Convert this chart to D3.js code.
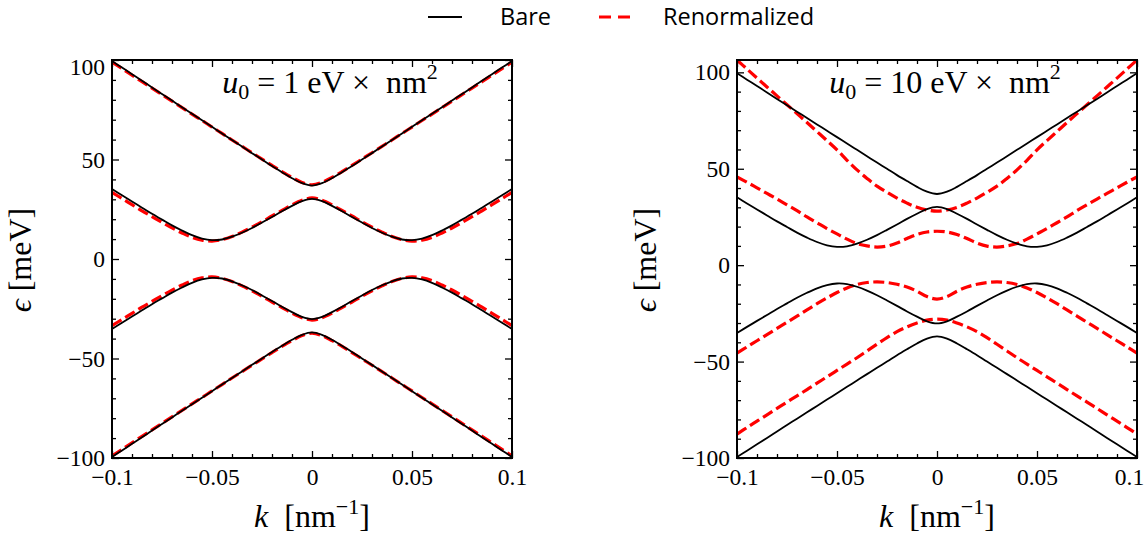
<!DOCTYPE html>
<html>
<head>
<meta charset="utf-8">
<script src="https://cdn.jsdelivr.net/npm/d3@7"></script>
<style>
  html, body { margin: 0; padding: 0; background: #fff; }
  svg { display: block; }
  text { white-space: pre; }
</style>
</head>
<body>
<svg id="chart" width="1145" height="538"></svg>
<script>
// ---- data ----
const kValues = [-0.1, -0.095, -0.09, -0.085, -0.08, -0.075, -0.07, -0.065, -0.06, -0.055, -0.05, -0.045, -0.04, -0.035, -0.03, -0.025, -0.02, -0.015, -0.01, -0.005, 0, 0.005, 0.01, 0.015, 0.02, 0.025, 0.03, 0.035, 0.04, 0.045, 0.05, 0.055, 0.06, 0.065, 0.07, 0.075, 0.08, 0.085, 0.09, 0.095, 0.1];

// Bare bands (same in both panels)
const bare1 = [99.5, 96.2, 92.9, 89.6, 86.2, 82.9, 79.6, 76.3, 73.0, 69.7, 66.4, 63.1, 59.8, 56.5, 53.2, 50.0, 46.7, 43.6, 40.6, 38.1, 36.9, 38.1, 40.6, 43.6, 46.7, 50.0, 53.2, 56.5, 59.8, 63.1, 66.4, 69.7, 73.0, 76.3, 79.6, 82.9, 86.2, 89.6, 92.9, 96.2, 99.5];
const bare2 = [35.2, 32.0, 28.9, 25.8, 22.7, 19.8, 16.9, 14.3, 12.0, 10.3, 9.5, 9.8, 11.2, 13.2, 15.6, 18.3, 21.1, 24.0, 26.7, 29.1, 30.2, 29.1, 26.7, 24.0, 21.1, 18.3, 15.6, 13.2, 11.2, 9.8, 9.5, 10.3, 12.0, 14.3, 16.9, 19.8, 22.7, 25.8, 28.9, 32.0, 35.2];
const bare3 = [-35.2, -32.0, -28.9, -25.8, -22.7, -19.8, -16.9, -14.3, -12.0, -10.3, -9.5, -9.8, -11.2, -13.2, -15.6, -18.3, -21.1, -24.0, -26.7, -29.1, -30.2, -29.1, -26.7, -24.0, -21.1, -18.3, -15.6, -13.2, -11.2, -9.8, -9.5, -10.3, -12.0, -14.3, -16.9, -19.8, -22.7, -25.8, -28.9, -32.0, -35.2];
const bare4 = [-99.5, -96.2, -92.9, -89.6, -86.2, -82.9, -79.6, -76.3, -73.0, -69.7, -66.4, -63.1, -59.8, -56.5, -53.2, -50.0, -46.7, -43.6, -40.6, -38.1, -36.9, -38.1, -40.6, -43.6, -46.7, -50.0, -53.2, -56.5, -59.8, -63.1, -66.4, -69.7, -73.0, -76.3, -79.6, -82.9, -86.2, -89.6, -92.9, -96.2, -99.5];

// Renormalized bands, u0 = 1 eV x nm^2
const renA1 = [98.9, 95.7, 92.4, 89.1, 85.9, 82.6, 79.3, 76.1, 72.8, 69.6, 66.3, 63.1, 59.8, 56.6, 53.4, 50.2, 47.0, 43.9, 41.0, 38.5, 37.3, 38.5, 41.0, 43.9, 47.0, 50.2, 53.4, 56.6, 59.8, 63.1, 66.3, 69.6, 72.8, 76.1, 79.3, 82.6, 85.9, 89.1, 92.4, 95.7, 98.9];
const renA2 = [33.5, 30.4, 27.3, 24.2, 21.3, 18.4, 15.6, 13.1, 10.9, 9.5, 9.0, 9.7, 11.3, 13.5, 16.0, 18.7, 21.6, 24.4, 27.2, 29.5, 30.7, 29.5, 27.2, 24.4, 21.6, 18.7, 16.0, 13.5, 11.3, 9.7, 9.0, 9.5, 10.9, 13.1, 15.6, 18.4, 21.3, 24.2, 27.3, 30.4, 33.5];
const renA3 = [-33.5, -30.4, -27.3, -24.2, -21.3, -18.4, -15.6, -13.1, -10.9, -9.5, -9.0, -9.7, -11.3, -13.5, -16.0, -18.7, -21.6, -24.4, -27.2, -29.5, -30.7, -29.5, -27.2, -24.4, -21.6, -18.7, -16.0, -13.5, -11.3, -9.7, -9.0, -9.5, -10.9, -13.1, -15.6, -18.4, -21.3, -24.2, -27.3, -30.4, -33.5];
const renA4 = [-98.9, -95.7, -92.4, -89.1, -85.9, -82.6, -79.3, -76.1, -72.8, -69.6, -66.3, -63.1, -59.8, -56.6, -53.4, -50.2, -47.0, -43.9, -41.0, -38.5, -37.3, -38.5, -41.0, -43.9, -47.0, -50.2, -53.4, -56.6, -59.8, -63.1, -66.3, -69.6, -72.8, -76.1, -79.3, -82.6, -85.9, -89.1, -92.4, -95.7, -98.9];

// Renormalized bands, u0 = 10 eV x nm^2
const renB1 = [106.4, 101.7, 97.0, 92.4, 87.8, 83.2, 78.6, 74.0, 69.3, 64.6, 59.8, 54.4, 49.4, 45.0, 41.0, 37.8, 34.8, 32.2, 30.0, 28.6, 28.0, 28.6, 30.0, 32.2, 34.8, 37.8, 41.0, 45.0, 49.4, 54.4, 59.8, 64.6, 69.3, 74.0, 78.6, 83.2, 87.8, 92.4, 97.0, 101.7, 106.4];
const renB2 = [45.8, 43.0, 40.1, 37.2, 34.3, 31.3, 28.3, 25.0, 22.0, 19.0, 16.2, 13.5, 11.2, 10.0, 9.4, 9.9, 11.5, 13.8, 15.9, 17.2, 17.6, 17.2, 15.9, 13.8, 11.5, 9.9, 9.4, 10.0, 11.2, 13.5, 16.2, 19.0, 22.0, 25.0, 28.3, 31.3, 34.3, 37.2, 40.1, 43.0, 45.8];
const renB3 = [-45.6, -42.4, -39.2, -36.0, -32.8, -29.6, -26.4, -23.2, -20.0, -17.0, -14.2, -11.8, -10.0, -9.0, -8.7, -9.0, -9.9, -11.3, -13.5, -16.3, -17.6, -16.3, -13.5, -11.3, -9.9, -9.0, -8.7, -9.0, -10.0, -11.8, -14.2, -17.0, -20.0, -23.2, -26.4, -29.6, -32.8, -36.0, -39.2, -42.4, -45.6];
const renB4 = [-87.6, -84.2, -80.9, -77.6, -74.3, -71.0, -67.8, -64.5, -61.2, -57.9, -54.6, -51.3, -48.0, -44.5, -41.0, -37.6, -34.5, -32.0, -30.0, -28.5, -28.0, -28.5, -30.0, -32.0, -34.5, -37.6, -41.0, -44.5, -48.0, -51.3, -54.6, -57.9, -61.2, -64.5, -67.8, -71.0, -74.3, -77.6, -80.9, -84.2, -87.6];

const xTicks = [-0.1, -0.05, 0, 0.05, 0.1];
const yTicks = [-100, -50, 0, 50, 100];
const xDomain = [-0.1, 0.1];
const yDomainA = [-100, 100];
const yDomainB = [-100, 106.4];
const legendLabels = ["Bare", "Renormalized"];
const panelValues = ["1", "10"];

// ---- drawing ----
const svg = d3.select("#chart");
const serif = "'Liberation Serif', 'DejaVu Serif', serif";
const MINUS = "\u2212";
const fmtX = d => d === 0 ? "0" : String(d).replace("-", MINUS);
const fmtY = d => String(d).replace("-", MINUS);
const TICK_FS = 23.5;

function range(a, b, step) { const out = []; for (let v = a; v <= b + 1e-9; v += step) out.push(+v.toFixed(4)); return out; }

function drawPanel(cfg) {
  const {x0, x1, y0, y1, yDomain, ren, value, id, topShift, annX, lastXShift} = cfg;
  const x = d3.scaleLinear().domain(xDomain).range([x0, x1]);
  const y = d3.scaleLinear().domain(yDomain).range([y1, y0]);
  const g = svg.append("g");

  g.append("clipPath").attr("id", "clip" + id)
    .append("rect").attr("x", x0).attr("y", y0).attr("width", x1 - x0).attr("height", y1 - y0);

  const line = d3.line().x((d, i) => x(kValues[i])).y(d => y(d)).curve(d3.curveCatmullRom.alpha(0.5));
  const plot = g.append("g").attr("clip-path", `url(#clip${id})`);

  ren.forEach(b => plot.append("path").attr("d", line(b))
    .attr("fill", "none").attr("stroke", "#ff0000").attr("stroke-width", 3.2)
    .attr("stroke-dasharray", "11,4.5"));
  [bare1, bare2, bare3, bare4].forEach(b => plot.append("path").attr("d", line(b))
    .attr("fill", "none").attr("stroke", "#000").attr("stroke-width", 1.8));

  const minorX = range(-0.1, 0.1, 0.01).filter(v => !xTicks.some(t => Math.abs(t - v) < 1e-6));
  const minorY = range(-100, yDomain[1], 10).filter(v => !yTicks.includes(v));

  const styleAxis = sel => { sel.select(".domain").remove(); sel.selectAll("line").attr("stroke", "#000").attr("stroke-width", 1.3); };

  // bottom
  g.append("g").attr("transform", `translate(0,${y1})`)
    .call(d3.axisBottom(x).tickValues(xTicks).tickSize(-7).tickPadding(10).tickFormat(fmtX))
    .call(styleAxis)
    .call(s => s.selectAll("text").attr("font-family", serif).attr("font-size", TICK_FS).attr("fill", "#000")
      .attr("dx", d => d === 0.1 ? lastXShift : 0));
  g.append("g").attr("transform", `translate(0,${y1})`)
    .call(d3.axisBottom(x).tickValues(minorX).tickSize(-4).tickFormat(""))
    .call(styleAxis);
  // top
  g.append("g").attr("transform", `translate(0,${y0})`)
    .call(d3.axisTop(x).tickValues(xTicks).tickSize(-7).tickFormat(""))
    .call(styleAxis);
  g.append("g").attr("transform", `translate(0,${y0})`)
    .call(d3.axisTop(x).tickValues(minorX).tickSize(-4).tickFormat(""))
    .call(styleAxis);
  // left
  g.append("g").attr("transform", `translate(${x0},0)`)
    .call(d3.axisLeft(y).tickValues(yTicks).tickSize(-7).tickPadding(7).tickFormat(fmtY))
    .call(styleAxis)
    .call(s => s.selectAll("text").attr("font-family", serif).attr("font-size", TICK_FS).attr("fill", "#000")
      .attr("dy", d => (d === 100 && topShift) ? (0.32 * TICK_FS + topShift) + "px" : "0.32em"));
  g.append("g").attr("transform", `translate(${x0},0)`)
    .call(d3.axisLeft(y).tickValues(minorY).tickSize(-4).tickFormat(""))
    .call(styleAxis);
  // right
  g.append("g").attr("transform", `translate(${x1},0)`)
    .call(d3.axisRight(y).tickValues(yTicks).tickSize(-7).tickFormat(""))
    .call(styleAxis);
  g.append("g").attr("transform", `translate(${x1},0)`)
    .call(d3.axisRight(y).tickValues(minorY).tickSize(-4).tickFormat(""))
    .call(styleAxis);

  // frame
  g.append("rect").attr("x", x0).attr("y", y0).attr("width", x1 - x0).attr("height", y1 - y0)
    .attr("fill", "none").attr("stroke", "#000").attr("stroke-width", 2);

  // annotation
  const t = g.append("text").attr("x", annX).attr("y", 93).attr("text-anchor", "middle")
    .attr("font-family", serif).attr("font-size", 32).attr("fill", "#000");
  t.append("tspan").attr("font-style", "italic").text("u");
  t.append("tspan").attr("font-size", 22).attr("dy", 6).text("0");
  t.append("tspan").attr("dy", -6).text(` = ${value} eV \u00d7  nm`);
  t.append("tspan").attr("font-size", 22).attr("dy", -14).text("2");

  // axis labels
  const kl = g.append("text").attr("x", (x0 + x1) / 2).attr("y", 527).attr("text-anchor", "middle")
    .attr("font-family", serif).attr("font-size", 32).attr("fill", "#000");
  kl.append("tspan").attr("font-style", "italic").text("k");
  kl.append("tspan").text("  [nm");
  kl.append("tspan").attr("font-size", 22).attr("dy", -13).text(MINUS + "1");
  kl.append("tspan").attr("dy", 13).text("]");

  const el = g.append("text").attr("transform", `translate(${x0 - 81},${(y0 + y1) / 2 + 1}) rotate(-90)`)
    .attr("text-anchor", "middle").attr("font-family", serif).attr("font-size", 32).attr("fill", "#000");
  el.append("tspan").attr("font-style", "italic").text("\u03f5");
  el.append("tspan").text(" [meV]");
}

drawPanel({x0: 112, x1: 512, y0: 60, y1: 458, yDomain: yDomainA, ren: [renA1, renA2, renA3, renA4], value: panelValues[0], id: "a", topShift: 7, annX: 330, lastXShift: 0});
drawPanel({x0: 737, x1: 1137, y0: 60, y1: 458, yDomain: yDomainB, ren: [renB1, renB2, renB3, renB4], value: panelValues[1], id: "b", topShift: 0, annX: 945, lastXShift: -8});

// legend
const lg = svg.append("g");
lg.append("line").attr("x1", 428).attr("x2", 462).attr("y1", 17).attr("y2", 17)
  .attr("stroke", "#000").attr("stroke-width", 2);
lg.append("text").attr("x", 500).attr("y", 25).attr("font-family", "'Open Sans', sans-serif")
  .attr("font-size", 23.5).attr("fill", "#000").text(legendLabels[0]);
lg.append("line").attr("x1", 599).attr("x2", 633).attr("y1", 17).attr("y2", 17)
  .attr("stroke", "#ff0000").attr("stroke-width", 3).attr("stroke-dasharray", "12,7");
lg.append("text").attr("x", 663).attr("y", 25).attr("font-family", "'Open Sans', sans-serif")
  .attr("font-size", 23.5).attr("fill", "#000").text(legendLabels[1]);
</script>
</body>
</html>
